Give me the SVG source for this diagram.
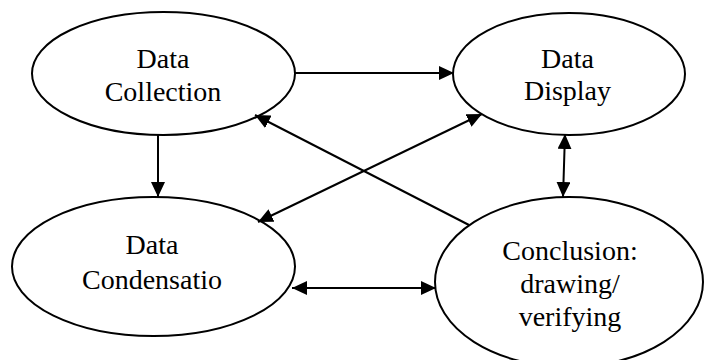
<svg xmlns="http://www.w3.org/2000/svg" width="704" height="360" viewBox="0 0 704 360">
<style>
.node ellipse{fill:#fff;stroke:#000;stroke-width:2}
.node text{font-family:'Liberation Serif','Times New Roman',serif;font-size:28px;fill:#000;text-anchor:middle}
.conn line{stroke:#000;stroke-width:2;fill:none}
</style>
<defs>
<marker id="ah" viewBox="0 0 15 14" refX="15" refY="7" markerWidth="15" markerHeight="14" markerUnits="userSpaceOnUse" orient="auto-start-reverse">
<path d="M0,0 L15,7 L0,14 z" fill="#000"/>
</marker>
</defs>
<rect width="704" height="360" fill="#fff"/>
<g id="collection" class="node">
<ellipse cx="163.5" cy="73.5" rx="131.5" ry="61.5"/>
<text x="163" y="68">Data</text>
<text x="163" y="100.5">Collection</text>
</g>
<g id="display" class="node">
<ellipse cx="569" cy="74" rx="116" ry="61"/>
<text x="567.5" y="68">Data</text>
<text x="567.5" y="100">Display</text>
</g>
<g id="condensation" class="node">
<ellipse cx="153.5" cy="266.5" rx="141.5" ry="69.5"/>
<text x="152" y="254">Data</text>
<text x="152" y="288.5">Condensatio</text>
</g>
<g id="conclusion" class="node">
<ellipse cx="569" cy="282" rx="134" ry="85"/>
<text x="570" y="260">Conclusion:</text>
<text x="570" y="293">drawing/</text>
<text x="570" y="326">verifying</text>
</g>
<g id="connectors" class="conn">
<line x1="295" y1="73" x2="454" y2="73" marker-end="url(#ah)"/>
<line x1="158" y1="135" x2="158" y2="197" marker-end="url(#ah)"/>
<line x1="469" y1="225" x2="255" y2="115" marker-end="url(#ah)"/>
<line x1="258" y1="222" x2="482" y2="114" marker-start="url(#ah)" marker-end="url(#ah)"/>
<line x1="565" y1="134" x2="563" y2="197" marker-start="url(#ah)" marker-end="url(#ah)"/>
<line x1="292" y1="288" x2="436" y2="288" marker-start="url(#ah)" marker-end="url(#ah)"/>
</g>
</svg>
